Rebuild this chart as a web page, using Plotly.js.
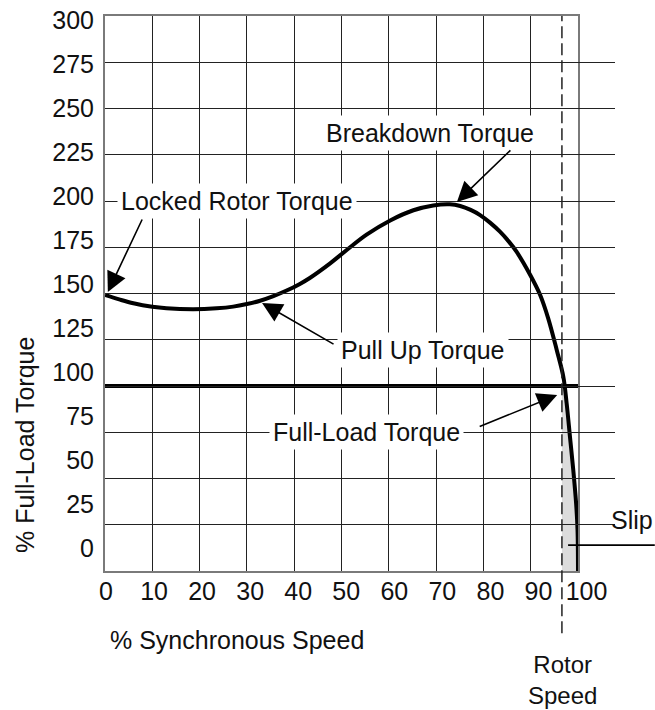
<!DOCTYPE html>
<html>
<head>
<meta charset="utf-8">
<script src="https://cdn.plot.ly/plotly-3.0.1.min.js"></script>
<style>
  html, body { margin: 0; padding: 0; background: #ffffff; }
  #chart { width: 655px; height: 710px; }
</style>
</head>
<body>
<div id="chart"></div>
<script>
// ---- data ----
const speed  = [0, 3, 6, 10, 13, 18.7, 23.6, 27.1, 30, 32.8, 35.6, 38.4, 41.2, 43.3, 47.6, 51.1, 55.3, 60.3, 65.2, 69.4, 72.9, 75.1, 77.3, 79.3, 81.4, 83.5, 85.3, 87.0, 89.9, 92.0, 93.7, 95.5, 96.9, 97.6, 98.3, 99.0, 99.6, 99.9, 100];
const torque = [149.2, 146.8, 144.7, 142.8, 142.0, 141.5, 142.0, 142.9, 144.3, 146.1, 148.6, 151.6, 155.2, 158.4, 166.3, 173.5, 181.8, 189.5, 195.0, 197.6, 198.2, 197.3, 195.2, 192.4, 188.3, 183.4, 178.3, 172.6, 160.0, 149.2, 136.6, 119.5, 105.0, 90.6, 72.6, 54.6, 36.6, 22.2, 0];
const fullLoadTorque = 100;
const rotorSpeed = 96.6;
const slipTorque = 14;
const xTicks = [0, 10, 20, 30, 40, 50, 60, 70, 80, 90, 100];
const xTickText = ['0', '10', '20', '30', '40', '50', '60', '70', '80', '90', '100'];
const yTicks = [0, 25, 50, 75, 100, 125, 150, 175, 200, 225, 250, 275, 300];
const yTickText = ['0', '25', '50', '75', '100', '125', '150', '175', '200', '225', '250', '275', '300'];

// slip region: between the rotor-speed line and the curve, below full load
const slipX = [rotorSpeed, rotorSpeed];
const slipY = [0, fullLoadTorque];
for (let i = 1; i < speed.length; i++) {
  const y0 = torque[i - 1], y1 = torque[i];
  if (y0 > fullLoadTorque && y1 <= fullLoadTorque) {
    const t = (y0 - fullLoadTorque) / (y0 - y1);
    slipX.push(speed[i - 1] + t * (speed[i] - speed[i - 1]));
    slipY.push(fullLoadTorque);
  }
  if (y1 <= fullLoadTorque) { slipX.push(speed[i]); slipY.push(y1); }
}

const FONT = 'Liberation Sans, Arial, Helvetica, sans-serif';
const TXT = '#111111';
const FS = 25;

const traces = [
  { x: slipX, y: slipY, type: 'scatter', mode: 'lines', fill: 'toself', fillcolor: '#dcdcdc',
    line: { width: 0, color: '#dcdcdc' }, hoverinfo: 'skip', showlegend: false },
  { x: [0, 100], y: [fullLoadTorque, fullLoadTorque], type: 'scatter', mode: 'lines',
    line: { color: '#000', width: 4 }, showlegend: false },
  { x: speed, y: torque, type: 'scatter', mode: 'lines',
    line: { color: '#000', width: 4, shape: 'spline', smoothing: 1 }, showlegend: false },
  // invisible helpers so the label axes are drawn
  { x: [50], y: [150], xaxis: 'x', yaxis: 'y2', type: 'scatter', mode: 'markers',
    marker: { opacity: 0 }, hoverinfo: 'skip', showlegend: false },
  { x: [50], y: [150], xaxis: 'x2', yaxis: 'y', type: 'scatter', mode: 'markers',
    marker: { opacity: 0 }, hoverinfo: 'skip', showlegend: false }
];

const PLOT_FRAC = 473 / 510;

const gridAxis = {
  showgrid: true, gridcolor: '#222', gridwidth: 1,
  showline: true, linecolor: '#7a7a7a', linewidth: 2, mirror: true,
  zeroline: false, ticks: '', showticklabels: false, fixedrange: true
};

const ann = (text, x, y, extra) => Object.assign({
  text: text, x: x, y: y, xref: 'x', yref: 'y', showarrow: false,
  xanchor: 'center', yanchor: 'middle',
  font: { family: FONT, size: FS, color: TXT }, bgcolor: '#ffffff', borderpad: 3
}, extra || {});

const arrow = (x, y, ax, ay) => ({
  text: '', x: x, y: y, xref: 'x', yref: 'y', ax: ax, ay: ay, showarrow: true,
  arrowhead: 2, arrowsize: 2.5, arrowwidth: 1.6, arrowcolor: '#000', standoff: 0
});

const layout = {
  width: 655, height: 710,
  margin: { l: 105, r: 40, t: 16, b: 139 },
  paper_bgcolor: '#fff', plot_bgcolor: 'rgba(0,0,0,0)',
  font: { family: FONT, size: FS, color: TXT },
  showlegend: false,
  xaxis: Object.assign({}, gridAxis, { range: [0, 100], tickvals: xTicks, domain: [0, PLOT_FRAC] }),
  yaxis: Object.assign({}, gridAxis, { range: [0, 300], tickvals: yTicks }),
  xaxis2: { anchor: 'y', side: 'bottom', domain: [0, 1], range: [-0.208, 105.93],
    tickvals: xTicks, ticktext: xTickText, showgrid: false, zeroline: false, showline: false,
    ticks: '', ticklabelstandoff: 3, tickfont: { family: FONT, size: FS, color: TXT }, fixedrange: true },
  yaxis2: { overlaying: 'y', anchor: 'x', side: 'left', range: [-13.07, 302.27],
    tickvals: yTicks, ticktext: yTickText, showgrid: false, zeroline: false, showline: false,
    ticks: '', ticklabelstandoff: 10, tickfont: { family: FONT, size: FS, color: TXT }, fixedrange: true },
  shapes: [
    { type: 'line', xref: 'x', yref: 'paper', x0: rotorSpeed, x1: rotorSpeed, y0: -0.112, y1: 1,
      line: { color: '#222', width: 1.5, dash: '12px,5px' } },
    { type: 'line', xref: 'paper', yref: 'y', x0: 0.908, x1: 1.078, y0: slipTorque, y1: slipTorque,
      line: { color: '#000', width: 1.6 } }
  ],
  annotations: [
    ann('Locked Rotor Torque', 28.0, 200),
    ann('Breakdown Torque', 68.7, 236.8),
    ann('Pull Up Torque', 67.3, 119.2),
    ann('Full-Load Torque', 55.3, 75.4),
    ann('Slip', 1.0343, 0.091, { xref: 'paper', yref: 'paper', bgcolor: 'rgba(0,0,0,0)' }),
    ann('Rotor<br>Speed', 0.898, -0.197, { xref: 'paper', yref: 'paper', bgcolor: 'rgba(0,0,0,0)', borderpad: 0,
      font: { family: FONT, size: 24, color: TXT } }),
    ann('% Synchronous Speed', 0.002, -0.1243, { xref: 'paper', yref: 'paper', xanchor: 'left', bgcolor: 'rgba(0,0,0,0)' }),
    ann('% Full-Load Torque', -0.157, 0.227, { xref: 'paper', yref: 'paper', textangle: -90, bgcolor: 'rgba(0,0,0,0)' }),
    arrow(0.6, 150.8, 35, -74),
    arrow(74.4, 199.5, 55, -53),
    arrow(33.2, 144.9, 73, 42),
    arrow(95.6, 95.1, -79, 32)
  ]
};

Plotly.newPlot('chart', traces, layout, { staticPlot: true, displayModeBar: false });
</script>
</body>
</html>
